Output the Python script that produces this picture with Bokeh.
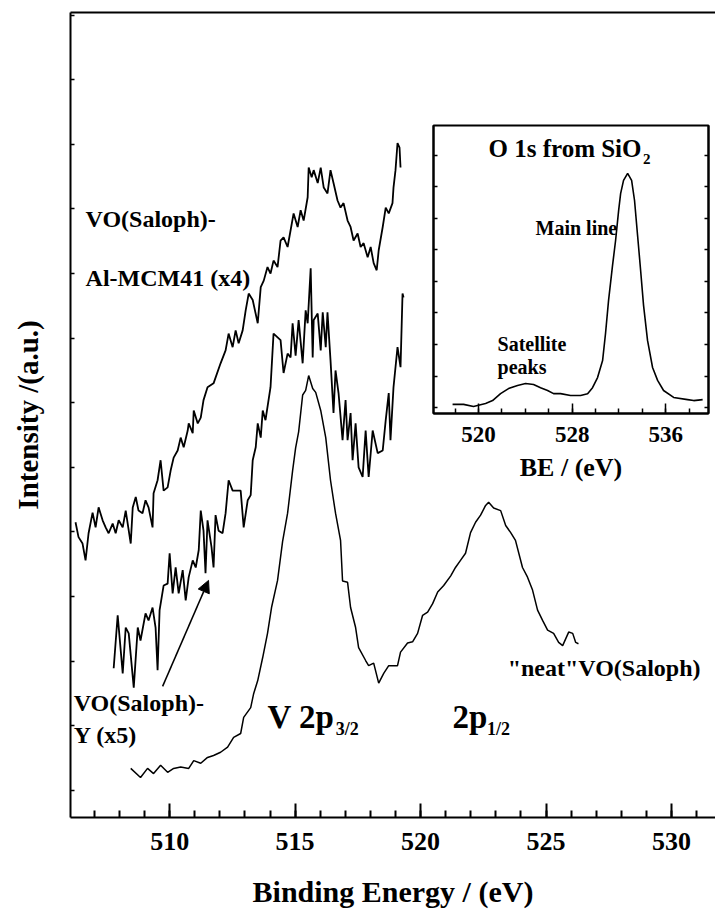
from bokeh.plotting import figure
from bokeh.models import (Range1d, LinearAxis, SingleIntervalTicker, FixedTicker,
                          Label, Arrow, NormalHead, GridBox)
from bokeh.embed import file_html
from bokeh.resources import INLINE

FONT = "Liberation Serif"

# ---------------- data (binding energy in eV, intensity in arbitrary units) -------------
neat_be = [508.45, 508.84, 509.12, 509.36, 509.64, 509.92, 510.16, 510.44, 510.76, 510.96,
           511.24, 511.51, 511.75, 512.03, 512.31, 512.55, 512.83, 512.95, 513.23, 513.35,
           513.51, 513.71, 513.90, 514.06, 514.30, 514.50, 514.70, 514.90, 515.02, 515.14,
           515.30, 515.42, 515.54, 515.70, 515.82, 516.02, 516.22, 516.41, 516.61, 516.81,
           516.89, 517.09, 517.21, 517.41, 517.53, 517.81, 517.93, 518.13, 518.33, 518.53,
           518.73, 519.08, 519.20, 519.48, 519.68, 519.88, 520.08, 520.28, 520.48, 520.68,
           520.92, 521.20, 521.39, 521.59, 521.79, 521.99, 522.19, 522.39, 522.59, 522.71,
           522.91, 523.19, 523.39, 523.59, 523.78, 524.06, 524.26, 524.46, 524.66, 524.86,
           525.06, 525.30, 525.50, 525.66, 525.90, 526.06, 526.18, 526.29]
neat_int = [0.34, 0.20, 0.34, 0.26, 0.39, 0.28, 0.34, 0.36, 0.34, 0.46,
            0.42, 0.51, 0.54, 0.59, 0.67, 0.82, 0.88, 1.13, 1.28, 1.50,
            1.70, 2.06, 2.43, 2.83, 3.25, 3.85, 4.29, 4.95, 5.30, 5.55,
            6.12, 6.19, 6.42, 6.22, 6.16, 5.88, 5.46, 4.80, 4.29, 3.87,
            3.24, 3.22, 2.83, 2.52, 2.21, 2.01, 1.93, 1.97, 1.66, 1.81,
            1.93, 1.93, 2.14, 2.28, 2.30, 2.43, 2.71, 2.76, 2.89, 3.07,
            3.17, 3.32, 3.45, 3.56, 3.67, 3.99, 4.15, 4.26, 4.41, 4.46,
            4.37, 4.33, 4.10, 3.99, 3.87, 3.45, 3.30, 3.10, 2.79, 2.63,
            2.48, 2.43, 2.29, 2.24, 2.45, 2.43, 2.29, 2.27]

y5_be = [507.77, 507.93, 508.13, 508.25, 508.37, 508.57, 508.73, 508.84, 509.04, 509.16,
         509.32, 509.44, 509.52, 509.60, 509.76, 509.92, 510.00, 510.12, 510.24, 510.36,
         510.52, 510.64, 510.76, 510.92, 511.04, 511.16, 511.24, 511.35, 511.43, 511.51,
         511.67, 511.75, 511.83, 511.95, 512.11, 512.23, 512.35, 512.51, 512.63, 512.83,
         512.95, 513.11, 513.23, 513.31, 513.43, 513.51, 513.63, 513.71, 513.82, 514.02,
         514.14, 514.42, 514.54, 514.70, 514.82, 514.90, 515.02, 515.14, 515.30, 515.42,
         515.50, 515.62, 515.70, 515.74, 515.90, 516.02, 516.10, 516.22, 516.29, 516.41,
         516.53, 516.61, 516.73, 516.89, 517.01, 517.09, 517.21, 517.29, 517.41, 517.53,
         517.69, 517.81, 517.93, 518.09, 518.29, 518.49, 518.61, 518.73, 518.80, 518.92,
         519.08, 519.20, 519.28, 519.32]
y5_int = [1.89, 2.71, 1.81, 2.52, 2.43, 1.59, 2.52, 2.32, 2.74, 2.63,
          2.83, 2.52, 1.86, 2.79, 3.17, 3.20, 3.67, 3.05, 3.45, 3.05,
          3.41, 2.94, 3.30, 3.56, 3.45, 3.72, 4.33, 4.02, 3.36, 4.18,
          3.76, 3.45, 4.26, 4.02, 3.98, 4.29, 4.80, 4.64, 4.64, 4.64,
          4.07, 4.49, 4.57, 5.11, 5.31, 5.68, 5.46, 5.88, 5.73, 6.24,
          7.07, 6.97, 6.46, 6.76, 6.70, 7.23, 6.73, 7.28, 6.61, 7.43,
          7.23, 8.08, 6.70, 7.28, 7.38, 6.81, 7.40, 6.86, 7.40, 6.66,
          5.84, 6.50, 6.15, 5.42, 6.04, 5.42, 5.84, 5.11, 5.68, 5.00,
          4.85, 5.57, 4.85, 5.57, 5.22, 5.26, 5.73, 6.15, 5.42, 6.24,
          6.86, 6.55, 7.69, 7.63]

mcm_be = [506.25, 506.37, 506.53, 506.65, 506.77, 506.93, 507.05, 507.17, 507.33, 507.45,
          507.57, 507.73, 507.85, 507.97, 508.13, 508.25, 508.45, 508.53, 508.65, 508.76,
          508.92, 509.04, 509.16, 509.32, 509.36, 509.52, 509.64, 509.76, 509.92, 510.04,
          510.16, 510.32, 510.44, 510.56, 510.72, 510.76, 510.92, 510.96, 511.12, 511.24,
          511.35, 511.51, 511.75, 512.03, 512.23, 512.35, 512.51, 512.63, 512.75, 512.91,
          513.03, 513.15, 513.31, 513.51, 513.63, 513.75, 513.90, 514.02, 514.14, 514.30,
          514.42, 514.54, 514.70, 514.82, 514.94, 515.10, 515.22, 515.34, 515.50, 515.54,
          515.66, 515.74, 515.90, 516.02, 516.14, 516.29, 516.41, 516.53, 516.69, 516.81,
          516.93, 517.09, 517.21, 517.33, 517.49, 517.61, 517.73, 517.89, 518.01, 518.13,
          518.25, 518.33, 518.49, 518.61, 518.73, 518.88, 518.92, 519.00, 519.08, 519.16,
          519.20]
mcm_int = [4.15, 3.92, 3.82, 3.56, 3.98, 4.30, 4.07, 4.38, 4.18, 4.07,
           3.98, 4.13, 3.98, 4.18, 4.07, 4.33, 3.82, 4.38, 4.54, 4.33,
           4.29, 4.49, 4.38, 4.07, 4.60, 4.80, 5.11, 4.64, 4.69, 4.95,
           5.15, 5.26, 5.46, 5.31, 5.57, 5.68, 5.53, 5.88, 5.68, 5.77,
           6.04, 6.24, 6.30, 6.61, 6.81, 7.07, 6.86, 7.12, 6.92, 7.12,
           7.43, 7.69, 7.59, 7.23, 7.79, 7.89, 8.10, 8.00, 8.20, 8.10,
           8.51, 8.56, 8.41, 8.67, 8.93, 8.72, 8.98, 8.82, 9.18, 9.64,
           9.49, 9.60, 9.40, 9.64, 9.33, 9.24, 9.60, 9.40, 9.13, 9.02,
           9.09, 8.82, 8.72, 8.51, 8.62, 8.41, 8.47, 8.25, 8.41, 8.16,
           8.05, 8.36, 8.72, 9.02, 8.93, 9.09, 9.33, 9.60, 10.02, 9.95,
           9.64]

o1s_be = [517.78, 518.72, 519.57, 520.60, 521.20, 521.88, 522.56, 523.33, 524.02, 524.70,
          525.30, 525.90, 526.41, 527.01, 527.86, 528.72, 529.32, 529.74, 530.17, 530.60,
          530.85, 531.11, 531.45, 531.71, 531.97, 532.14, 532.39, 532.74, 533.08, 533.33,
          533.59, 533.85, 534.10, 534.44, 534.87, 535.30, 535.81, 536.67, 537.86, 538.38,
          539.15]
o1s_int = [0.10, 0.10, 0.03, 0.13, 0.22, 0.44, 0.60, 0.70, 0.76, 0.73,
           0.63, 0.54, 0.44, 0.44, 0.38, 0.38, 0.44, 0.63, 0.95, 1.49,
           2.35, 3.40, 4.51, 5.30, 6.25, 6.79, 7.21, 7.43, 7.21, 6.57,
           5.46, 4.35, 3.24, 2.13, 1.27, 0.86, 0.54, 0.32, 0.25, 0.22,
           0.25]

main_y_ticks = list(range(0, 13))
inset_y_ticks = list(range(0, 9))

# ---------------- helpers ----------------
def tick_only_axis(ticks, tick_len, lw=2):
    # ticks drawn as minor ticks so that no (empty) labels are produced
    ax = LinearAxis(ticker=FixedTicker(ticks=[-1000.0], minor_ticks=ticks))
    ax.major_tick_in = 0
    ax.major_tick_out = 0
    ax.minor_tick_in = tick_len
    ax.minor_tick_out = 0
    ax.axis_line_width = lw
    ax.minor_tick_line_width = 1.5
    ax.major_label_standoff = 0
    return ax

def add_text(fig, x, y, text, size, align="left"):
    fig.add_layout(Label(x=x, y=y, text=text, text_font=FONT, text_font_style="bold",
                         text_font_size=size, text_baseline="middle", text_align=align,
                         text_color="black"))

# ---------------- main plot ----------------
main = figure(width=715, height=914, output_backend="svg", toolbar_location=None,
              x_range=Range1d(506.05, 531.75), y_range=Range1d(-0.42, 12.04),
              x_axis_type=None, y_axis_type=None,
              min_border_left=70, min_border_right=0, min_border_top=12,
              min_border_bottom=97)
main.outline_line_color = None
main.background_fill_color = "white"
main.border_fill_color = "white"

xb = LinearAxis(ticker=SingleIntervalTicker(interval=5, num_minor_ticks=5),
                axis_label="Binding Energy / (eV)")
xb.major_tick_in = 14
xb.major_tick_out = 0
xb.minor_tick_in = 7
xb.minor_tick_out = 0
xb.axis_line_width = 2
xb.major_tick_line_width = 2
xb.minor_tick_line_width = 2
xb.major_label_text_font = FONT
xb.major_label_text_font_style = "bold"
xb.major_label_text_font_size = "26px"
xb.major_label_text_color = "black"
xb.major_label_standoff = 15
xb.axis_label_text_font = FONT
xb.axis_label_text_font_style = "bold"
xb.axis_label_text_font_size = "30px"
xb.axis_label_text_color = "black"
xb.axis_label_standoff = 22
main.add_layout(xb, "below")

yl = tick_only_axis(main_y_ticks, 4)
yl.axis_label = "Intensity /(a.u.)"
yl.axis_label_text_font = FONT
yl.axis_label_text_font_style = "bold"
yl.axis_label_text_font_size = "29px"
yl.axis_label_text_color = "black"
yl.axis_label_standoff = 27
main.add_layout(yl, "left")

xt = tick_only_axis([], 0)
main.add_layout(xt, "above")

for xs, ys, w in ((mcm_be, mcm_int, 1.8), (y5_be, y5_int, 1.8), (neat_be, neat_int, 1.5)):
    main.line(xs, ys, line_color="black", line_width=w)

add_text(main, 506.65, 8.85, "VO(Saloph)-", "24px")
add_text(main, 506.65, 7.93, "Al-MCM41 (x4)", "24px")
add_text(main, 506.18, 1.36, "VO(Saloph)-", "24px")
add_text(main, 506.18, 0.85, "Y (x5)", "24px")
add_text(main, 513.90, 1.13, "V 2p", "33px")
add_text(main, 516.62, 0.95, "3/2", "18px")
add_text(main, 521.27, 1.13, "2p", "33px")
add_text(main, 522.65, 0.95, "1/2", "18px")
add_text(main, 523.47, 1.90, "\"neat\"VO(Saloph)", "24px")

main.add_layout(Arrow(end=NormalHead(size=12, fill_color="black", line_color="black"),
                      x_start=509.72, y_start=1.61, x_end=511.55, y_end=3.25,
                      line_color="black", line_width=1.5))

# ---------------- inset ----------------
ins = figure(width=279, height=372, output_backend="svg", toolbar_location=None,
             x_range=Range1d(516.15, 539.65), y_range=Range1d(-0.19, 8.95),
             x_axis_type=None, y_axis_type=None,
             min_border_left=2, min_border_right=2, min_border_top=2,
             min_border_bottom=82)
ins.background_fill_alpha = 0
ins.border_fill_alpha = 0
ins.outline_line_color = "black"
ins.outline_line_width = 2
ins.outline_line_alpha = 1

ib = LinearAxis(ticker=SingleIntervalTicker(interval=8, num_minor_ticks=4),
                axis_label="BE / (eV)")
ib.major_tick_in = 10
ib.major_tick_out = 0
ib.minor_tick_in = 5
ib.minor_tick_out = 0
ib.axis_line_width = 2
ib.major_tick_line_width = 1.5
ib.minor_tick_line_width = 1.5
ib.major_label_text_font = FONT
ib.major_label_text_font_style = "bold"
ib.major_label_text_font_size = "23px"
ib.major_label_text_color = "black"
ib.major_label_standoff = 13
ib.axis_label_text_font = FONT
ib.axis_label_text_font_style = "bold"
ib.axis_label_text_font_size = "26px"
ib.axis_label_text_color = "black"
ib.axis_label_standoff = 8
ins.add_layout(ib, "below")

for side in ("left", "right"):
    ins.add_layout(tick_only_axis(inset_y_ticks, 4), side)

ins.line(o1s_be, o1s_int, line_color="black", line_width=1.6)

add_text(ins, 520.85, 8.22, "O 1s from SiO", "25px")
add_text(ins, 534.05, 7.90, "2", "15px")
add_text(ins, 524.87, 5.71, "Main line", "20px")
add_text(ins, 521.62, 2.03, "Satellite", "20px")
add_text(ins, 521.62, 1.27, "peaks", "20px")

layout = GridBox(children=[(main, 0, 0, 3, 3), (ins, 1, 1, 1, 1)],
                 rows=["123px", "372px", "419px"], cols=["431px", "279px", "5px"])

open("out.html", "w").write(file_html(layout, INLINE))
